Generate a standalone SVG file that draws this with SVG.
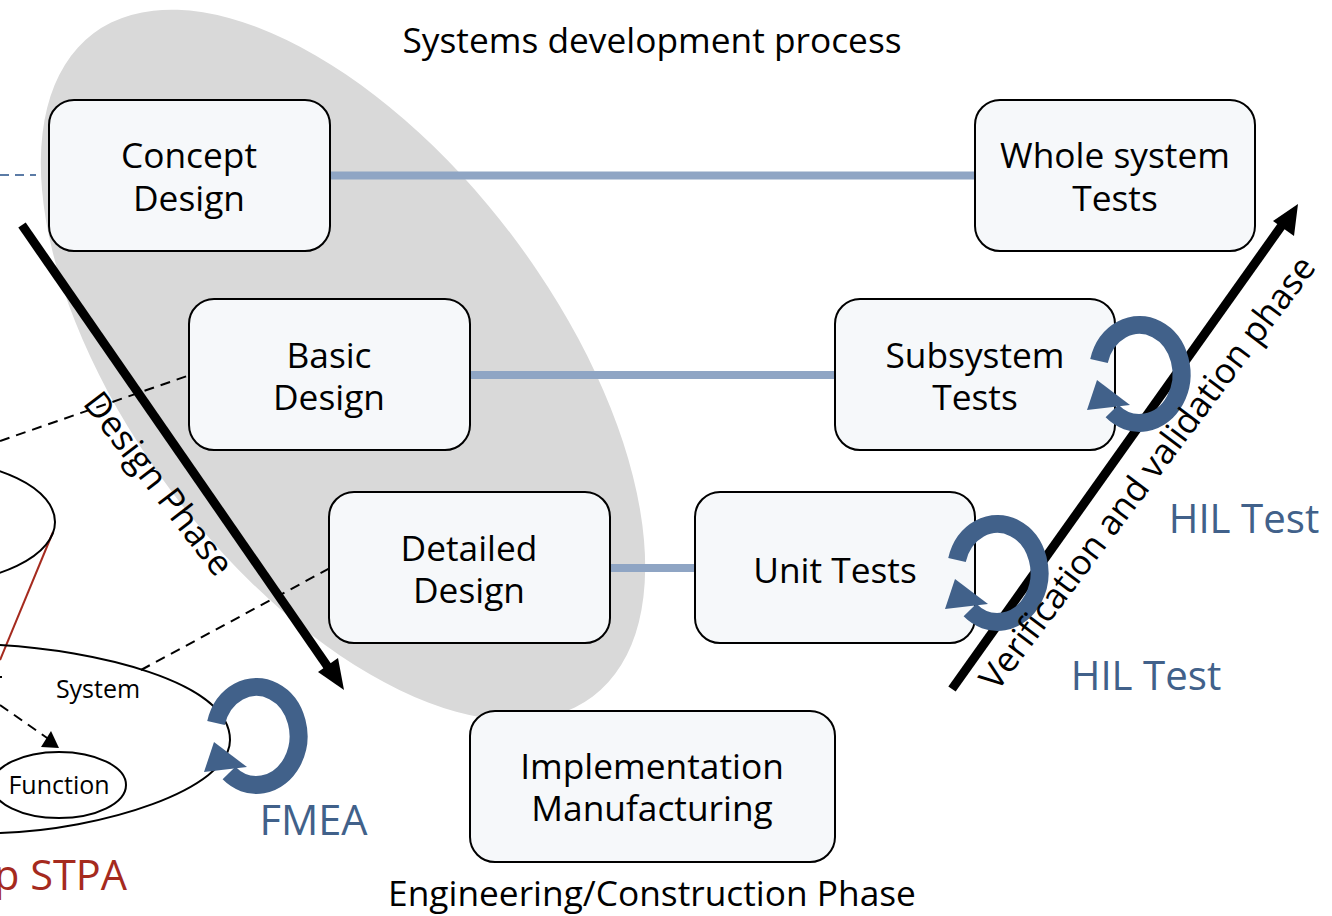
<svg xmlns="http://www.w3.org/2000/svg" xmlns:xlink="http://www.w3.org/1999/xlink" width="1332" height="916" viewBox="0 0 1332 916">
<style>
text{font-family:"Open Sans","Noto Sans","Liberation Sans",sans-serif;fill:#000;text-anchor:middle}
.t{font-size:35.300px}
.b{fill:#41618a;font-size:40.200px}
.n{fill:#f6f8fa;stroke:#000;stroke-width:2}
.bar{stroke:#8fa5c4;stroke-width:8;fill:none}
.d{stroke:#000;stroke-width:2;stroke-dasharray:10 7;fill:none}
.e{fill:none;stroke:#000;stroke-width:2}
.ar{stroke:#000;stroke-width:9;fill:none}
</style>
<defs>
<g id="loop">
<path d="M-41,-14 A42,49 0 1 1 -28,36" fill="none" stroke="#41618a" stroke-width="18"/>
<polygon points="-43,5 -53,35 -10,30" fill="#41618a"/>
</g>
</defs>
<ellipse id="region" cx="343" cy="365" rx="415" ry="213" transform="rotate(53 343 365)" fill="#d9d9d9"/>
<g id="connectors">
<line class="bar" x1="330" y1="175.500" x2="975" y2="175.500"/>
<line class="bar" x1="470" y1="375" x2="835" y2="375"/>
<line class="bar" x1="610" y1="568" x2="695" y2="568"/>
<line x1="0" y1="175" x2="36" y2="175" stroke="#5b7ba6" stroke-width="2" stroke-dasharray="9 6"/>
<line class="d" x1="0" y1="441" x2="190" y2="375"/>
<line class="d" x1="141" y1="670" x2="330" y2="568"/>
<line class="d" x1="0" y1="705" x2="50" y2="740"/>
<polygon points="59,748 41,747 51,731"/>
<line x1="53" y1="532" x2="0" y2="660" stroke="#a52a1e" stroke-width="2"/>
<line class="ar" x1="22" y1="225" x2="330" y2="670"/>
<polygon points="344,690 318,672 338,658"/>
<line class="ar" x1="952" y1="689" x2="1285" y2="221"/>
<polygon points="1298,204 1294,236 1273,221"/>
</g>
<g id="concept"><rect class="n" x="49" y="100" width="281" height="151" rx="25"/><text class="t" x="189" y="168">Concept</text><text class="t" x="189" y="211">Design</text></g>
<g id="basic"><rect class="n" x="189" y="299" width="281" height="151" rx="25"/><text class="t" x="329" y="368">Basic</text><text class="t" x="329" y="410">Design</text></g>
<g id="detailed"><rect class="n" x="329" y="492" width="281" height="151" rx="25"/><text class="t" x="469" y="561">Detailed</text><text class="t" x="469" y="603">Design</text></g>
<g id="impl"><rect class="n" x="470" y="711" width="365" height="151" rx="25"/><text class="t" x="652" y="779">Implementation</text><text class="t" x="652" y="821">Manufacturing</text></g>
<g id="unit"><rect class="n" x="695" y="492" width="280" height="151" rx="25"/><text class="t" x="835" y="583">Unit Tests</text></g>
<g id="subsystem"><rect class="n" x="835" y="299" width="280" height="151" rx="25"/><text class="t" x="975" y="368">Subsystem</text><text class="t" x="975" y="410">Tests</text></g>
<g id="whole"><rect class="n" x="975" y="100" width="280" height="151" rx="25"/><text class="t" x="1115" y="168">Whole system</text><text class="t" x="1115" y="211">Tests</text></g>
<g id="system">
<path class="e" d="M0,645 C90,650 230,680 230,740 C230,790 100,830 0,833"/>
<text x="98" y="698" font-size="25">System</text>
</g>
<g id="function"><ellipse class="e" cx="59" cy="785" rx="67" ry="33"/><text x="59" y="794" font-size="25">Function</text></g>
<ellipse id="upper" class="e" cx="-75" cy="522" rx="130" ry="62"/>
<line x1="0" y1="677" x2="2" y2="677" stroke="#000" stroke-width="2"/>
<use xlink:href="#loop" href="#loop" x="257" y="737"/>
<use xlink:href="#loop" href="#loop" x="1140" y="375"/>
<use xlink:href="#loop" href="#loop" x="998" y="574"/>
<text class="t" x="652" y="53">Systems development process</text>
<text class="t" x="652" y="906">Engineering/Construction Phase</text>
<text class="t" transform="translate(149 491) rotate(52.500)">Design Phase</text>
<text x="0" y="0" font-size="35" transform="translate(1157 480) rotate(-53)">Verification and validation phase</text>
<text class="b" x="1244" y="533">HIL Test</text>
<text class="b" x="1146" y="690">HIL Test</text>
<text class="b" x="313.500" y="835" style="font-size:41.500px">FMEA</text>
<text x="127" y="890" font-size="41.500" style="fill:#a52a1e;text-anchor:end">p STPA</text>
</svg>
